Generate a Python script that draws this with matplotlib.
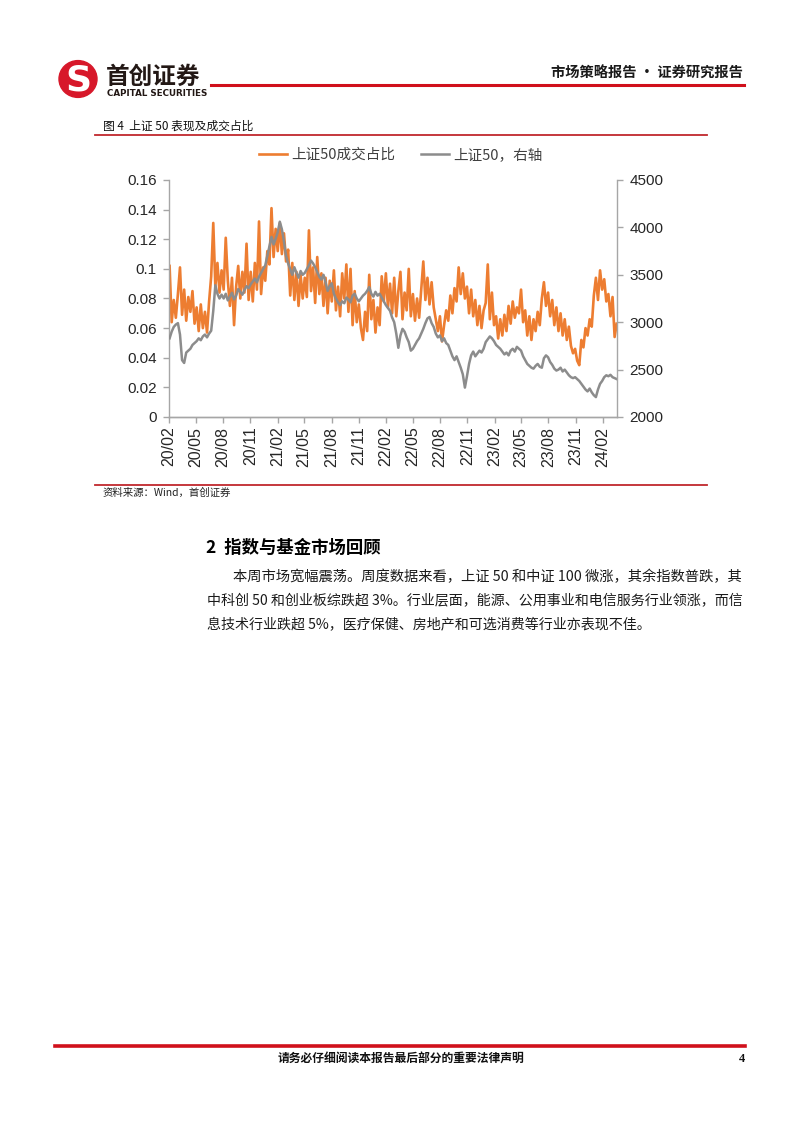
import numpy as np
import pandas as pd
import matplotlib
matplotlib.use('Agg')
import matplotlib.pyplot as plt
import matplotlib.dates as mdates
from matplotlib.patches import Ellipse
from matplotlib.lines import Line2D

plt.rcParams['font.family'] = ['Noto Sans CJK SC', 'DejaVu Sans']

# weekly readings, Feb 2020 - Mar 2024
share = [0.102, 0.064, 0.079, 0.067, 0.083, 0.101, 0.069, 0.086, 0.065, 0.081, 0.071, 0.085, 0.063,
         0.074, 0.058, 0.076, 0.060, 0.071, 0.057, 0.078, 0.095, 0.131, 0.088, 0.104, 0.084, 0.099,
         0.086, 0.121, 0.092, 0.075, 0.094, 0.062, 0.088, 0.102, 0.080, 0.098, 0.084, 0.117, 0.079,
         0.098, 0.078, 0.104, 0.086, 0.132, 0.083, 0.101, 0.092, 0.112, 0.103, 0.141, 0.108, 0.127,
         0.112, 0.131, 0.110, 0.124, 0.105, 0.113, 0.082, 0.104, 0.079, 0.098, 0.075, 0.096, 0.080,
         0.094, 0.081, 0.126, 0.085, 0.101, 0.077, 0.108, 0.083, 0.097, 0.075, 0.094, 0.070, 0.092,
         0.078, 0.099, 0.072, 0.088, 0.068, 0.097, 0.080, 0.103, 0.071, 0.100, 0.062, 0.085, 0.064,
         0.076, 0.060, 0.052, 0.071, 0.058, 0.096, 0.066, 0.079, 0.057, 0.074, 0.062, 0.095, 0.078,
         0.097, 0.074, 0.090, 0.070, 0.094, 0.068, 0.085, 0.098, 0.066, 0.084, 0.072, 0.100, 0.068,
         0.083, 0.065, 0.080, 0.067, 0.086, 0.105, 0.079, 0.094, 0.076, 0.091, 0.074, 0.066, 0.058,
         0.068, 0.051, 0.062, 0.072, 0.065, 0.082, 0.070, 0.087, 0.078, 0.101, 0.083, 0.097, 0.080,
         0.088, 0.070, 0.086, 0.068, 0.079, 0.062, 0.075, 0.060, 0.072, 0.077, 0.103, 0.066, 0.084,
         0.062, 0.068, 0.053, 0.066, 0.055, 0.069, 0.058, 0.075, 0.063, 0.078, 0.067, 0.074, 0.070,
         0.086, 0.064, 0.072, 0.055, 0.068, 0.052, 0.066, 0.058, 0.071, 0.062, 0.080, 0.091, 0.075,
         0.084, 0.068, 0.079, 0.062, 0.074, 0.058, 0.070, 0.055, 0.066, 0.052, 0.061, 0.048, 0.043,
         0.046, 0.038, 0.035, 0.052, 0.047, 0.060, 0.055, 0.066, 0.061, 0.082, 0.094, 0.079, 0.099,
         0.086, 0.093, 0.078, 0.083, 0.068, 0.081, 0.054, 0.063]

sz50 = [2830, 2900, 2950, 2975, 2990, 2870, 2600, 2570, 2680, 2700, 2720, 2760, 2780,
        2800, 2830, 2810, 2850, 2870, 2840, 2880, 2910, 3120, 3390, 3300, 3250, 3290,
        3250, 3300, 3230, 3270, 3310, 3240, 3280, 3350, 3320, 3290, 3340, 3380, 3360,
        3400, 3430, 3460, 3420, 3480, 3520, 3560, 3600, 3700, 3800, 3900, 3820, 3880,
        3950, 4060, 3980, 3850, 3700, 3620, 3560, 3500, 3580, 3520, 3470, 3540, 3500,
        3520, 3560, 3600, 3650, 3620, 3580, 3530, 3480, 3450, 3500, 3420, 3330, 3380,
        3410, 3300, 3250, 3210, 3180, 3220, 3200, 3260, 3240, 3210, 3280, 3300, 3250,
        3220, 3250, 3280, 3300, 3330, 3370, 3300, 3270, 3320, 3280, 3300, 3260, 3220,
        3180, 3150, 3120, 3050, 3000, 2880, 2730, 2860, 2930, 2900, 2840, 2790, 2700,
        2720, 2760, 2800, 2830, 2880, 2930, 2990, 3040, 3055, 2990, 2950, 2880, 2840,
        2860, 2800, 2830, 2780, 2760, 2700, 2640, 2600, 2640, 2580, 2520, 2450, 2310,
        2430, 2560, 2650, 2690, 2640, 2670, 2700, 2680, 2720, 2790, 2820, 2850, 2830,
        2800, 2760, 2740, 2720, 2690, 2660, 2680, 2650, 2700, 2720, 2690, 2740, 2720,
        2700, 2640, 2600, 2560, 2540, 2520, 2510, 2540, 2560, 2530, 2520, 2620, 2650,
        2630, 2580, 2550, 2510, 2490, 2500, 2520, 2480, 2500, 2470, 2440, 2420, 2410,
        2420, 2400, 2380, 2350, 2320, 2290, 2270, 2300, 2260, 2230, 2210, 2290, 2350,
        2380, 2420, 2440, 2430, 2445, 2420, 2410, 2400]

dates = pd.date_range('2020-02-03', periods=len(share), freq='7D')
tick_dates = pd.date_range('2020-02-01', '2024-02-01', freq='3MS')

W, H = 802, 1133
fig = plt.figure(figsize=(W / 100, H / 100), dpi=100)


def fx(x):
    return x / W


def fy(y):
    return 1 - y / H


def hline(x0, x1, y, color, lw):
    fig.add_artist(Line2D([fx(x0), fx(x1)], [fy(y), fy(y)], color=color, lw=lw,
                          transform=fig.transFigure))


# header / logo
logo = fig.add_axes([fx(58), fy(99), fx(40), 40 / H])
logo.set_xlim(0, 1)
logo.set_ylim(0, 1)
logo.axis('off')
logo.add_patch(Ellipse((0.5, 0.5), 0.95, 0.92, color='#d7182a'))
logo.text(0.5, 0.47, 'S', color='white', fontsize=26, fontweight='bold', ha='center', va='center',
          family='DejaVu Sans')
fig.text(fx(106), fy(77), '首创证券', fontsize=17, fontweight='bold', color='#231815', va='center')
fig.text(fx(107), fy(93), 'CAPITAL SECURITIES', fontsize=6.3, fontweight='bold', color='#231815',
         va='center', family='DejaVu Sans')
hline(211, 744, 84.5, '#d0101b', 2.2)
fig.text(fx(743), fy(74), '市场策略报告 · 证券研究报告', fontsize=10.3, fontweight='bold',
         color='#1a1a1a', ha='right', va='center')

# figure caption
fig.text(fx(103), fy(126), '图 4  上证 50 表现及成交占比', fontsize=8.5, color='#111111', va='center')
hline(95, 707, 135, '#c0282d', 1.3)
hline(95, 707, 485, '#c0282d', 1.3)
fig.text(fx(103), fy(493), '资料来源：Wind，首创证券', fontsize=7.5, color='#222222', va='center',
         style='italic')

# chart
ax = fig.add_axes([fx(169), fy(417), fx(617) - fx(169), (417 - 180) / H])
ax2 = ax.twinx()
l1, = ax.plot(dates, share, color='#ed7d31', lw=1.9)
l2, = ax2.plot(dates, sz50, color='#8c8c8c', lw=1.8)

ax.set_ylim(0, 0.16)
ax.set_yticks(np.arange(0, 0.161, 0.02))
ax.set_yticklabels(['0', '0.02', '0.04', '0.06', '0.08', '0.1', '0.12', '0.14', '0.16'])
ax2.set_ylim(2000, 4500)
ax2.set_yticks(range(2000, 4501, 500))
ax.set_xlim(pd.Timestamp('2020-02-01'), pd.Timestamp('2024-03-19'))
ax.set_xticks(tick_dates)
ax.xaxis.set_major_formatter(mdates.DateFormatter('%y/%m'))

for a in (ax, ax2):
    for s in a.spines.values():
        s.set_color('#a6a6a6')
        s.set_linewidth(1)
    a.spines['top'].set_visible(False)
    a.tick_params(colors='#a6a6a6', labelcolor='#262626', length=4, width=1, labelsize=11)
    for lab in a.get_yticklabels() + a.get_xticklabels():
        lab.set_family('Liberation Sans')
ax.spines['right'].set_visible(False)
ax2.spines['left'].set_visible(False)
ax.tick_params(axis='x', labelrotation=90, pad=3, labelsize=11.5)
ax.tick_params(axis='y', pad=5)
ax2.tick_params(axis='y', pad=5)

fig.legend([l1, l2], ['上证50成交占比', '上证50，右轴'], loc='center',
           bbox_to_anchor=(fx(401), fy(155)), ncol=2, frameon=False, fontsize=10.5,
           handlelength=1.9, columnspacing=1.8, handletextpad=0.3, labelcolor='#404040')

# section text
fig.text(fx(206), fy(548), '2  指数与基金市场回顾', fontsize=12.5, fontweight='bold',
         color='#000000', va='center')
para = ['本周市场宽幅震荡。周度数据来看，上证 50 和中证 100 微涨，其余指数普跌，其',
        '中科创 50 和创业板综跌超 3%。行业层面，能源、公用事业和电信服务行业领涨，而信',
        '息技术行业跌超 5%，医疗保健、房地产和可选消费等行业亦表现不佳。']
fig.text(fx(233), fy(577), para[0], fontsize=10.3, color='#1a1a1a', va='center')
fig.text(fx(207), fy(601), para[1], fontsize=10.1, color='#1a1a1a', va='center')
fig.text(fx(207), fy(625), para[2], fontsize=10.1, color='#1a1a1a', va='center')

# footer
hline(55, 745, 1046, '#d0101b', 2.6)
fig.text(fx(401), fy(1059), '请务必仔细阅读本报告最后部分的重要法律声明', fontsize=8.5,
         fontweight='bold', color='#111111', ha='center', va='center')
fig.text(fx(742), fy(1059), '4', fontsize=9, fontweight='bold', color='#111111', ha='center',
         va='center', family='Liberation Serif')

fig.savefig('out.png', dpi=100)
